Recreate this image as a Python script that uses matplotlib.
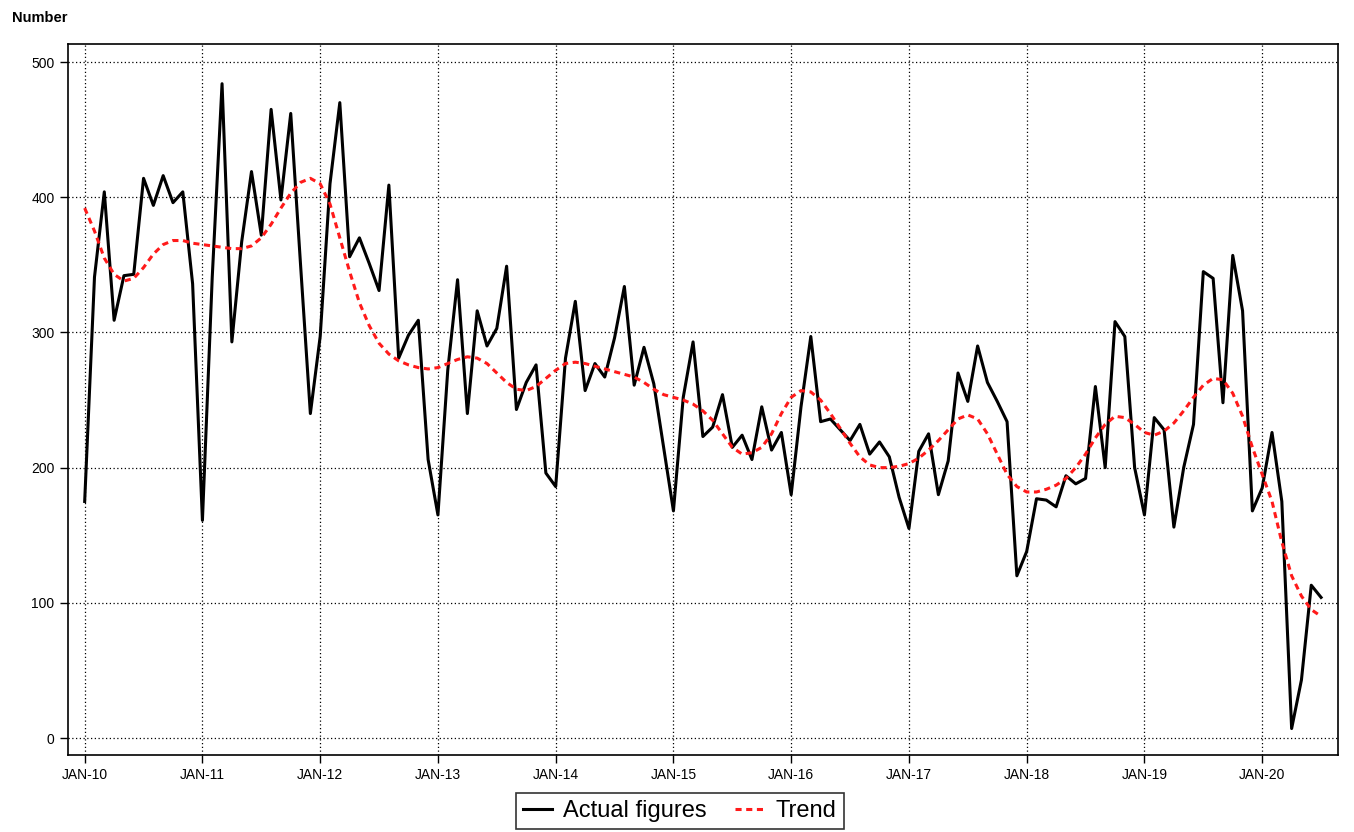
import numpy as np
import matplotlib
matplotlib.use('Agg')
import matplotlib.pyplot as plt

plt.rcParams['font.family'] = ['Liberation Sans', 'DejaVu Sans']

# --- data: monthly, Jan 2010 .. Jul 2020 ---
actual = [
    175, 341, 404, 309, 342, 343, 414, 394, 416, 396, 404, 336,   # 2010
    161, 341, 484, 293, 367, 419, 372, 465, 398, 462, 350, 240,   # 2011
    297, 410, 470, 356, 370, 351, 331, 409, 281, 298, 309, 206,   # 2012
    165, 272, 339, 240, 316, 290, 303, 349, 243, 263, 276, 196,   # 2013
    186, 281, 323, 257, 277, 267, 296, 334, 261, 289, 262, 215,   # 2014
    168, 252, 293, 223, 230, 254, 215, 224, 206, 245, 213, 226,   # 2015
    180, 245, 297, 234, 236, 228, 220, 232, 210, 219, 208, 178,   # 2016
    155, 212, 225, 180, 205, 270, 249, 290, 263, 249, 234, 120,   # 2017
    138, 177, 176, 171, 194, 188, 192, 260, 200, 308, 297, 200,   # 2018
    165, 237, 228, 156, 200, 232, 345, 340, 248, 357, 316, 168,   # 2019
    185, 226, 175, 7, 43, 113, 104,                               # 2020
]
trend = [
    392, 375, 355, 343, 338, 340, 348, 358, 365, 368, 368, 366,
    365, 364, 363, 362, 362, 364, 370, 380, 392, 403, 411, 414,
    410, 395, 370, 345, 322, 305, 292, 284, 279, 276, 274, 273,
    274, 277, 280, 282, 281, 277, 270, 263, 258, 257, 260, 266,
    272, 277, 278, 277, 275, 273, 271, 269, 267, 263, 258, 254,
    252, 250, 247, 242, 235, 225, 215, 210, 211, 215, 225, 240,
    252, 257, 256, 250, 240, 229, 218, 208, 202, 200, 200, 201,
    203, 207, 213, 220, 228, 236, 239, 236, 225, 210, 195, 186,
    182, 182, 184, 187, 192, 200, 210, 222, 232, 238, 237, 232,
    226, 224, 227, 233, 242, 252, 261, 266, 265, 255, 238, 215,
    195, 175, 145, 120, 105, 95, 90,
]
year_labels = ['JAN-10', 'JAN-11', 'JAN-12', 'JAN-13', 'JAN-14', 'JAN-15',
               'JAN-16', 'JAN-17', 'JAN-18', 'JAN-19', 'JAN-20']
y_ticks = [0, 100, 200, 300, 400, 500]

months = np.arange(len(actual))

fig = plt.figure(figsize=(13.54, 8.32), dpi=100)
ax = fig.add_axes([0.050, 0.0925, 0.938, 0.8545])

ax.plot(months, actual, color='black', lw=2.2, label='Actual figures', zorder=3)
ax.plot(months, trend, color='#ff1a1a', lw=2.2, ls=(0, (2, 1.5)), label='Trend', zorder=4)

ax.set_xlim(-1.73, 127.7)
ax.set_ylim(-12.6, 513.3)
ax.set_xticks(np.arange(len(year_labels)) * 12)
ax.set_xticklabels(year_labels, fontsize=10)
ax.set_yticks(y_ticks)
ax.set_yticklabels([str(v) for v in y_ticks], fontsize=10)
ax.grid(True, color='black', ls=(0, (1, 2)), lw=0.9)
ax.tick_params(length=6, width=1)
for s in ax.spines.values():
    s.set_linewidth(1.2)

fig.text(0.009, 0.978, 'Number', fontsize=10.5, fontweight='bold', va='center')

leg = ax.legend(loc='upper center', bbox_to_anchor=(0.482, -0.0534), ncol=2, fontsize=17,
                frameon=True, fancybox=False, edgecolor='black', handlelength=1.2,
                columnspacing=1.2, handletextpad=0.5, borderpad=0.3, borderaxespad=0)
leg.get_frame().set_linewidth(1.2)

fig.savefig('out.png', dpi=100)
